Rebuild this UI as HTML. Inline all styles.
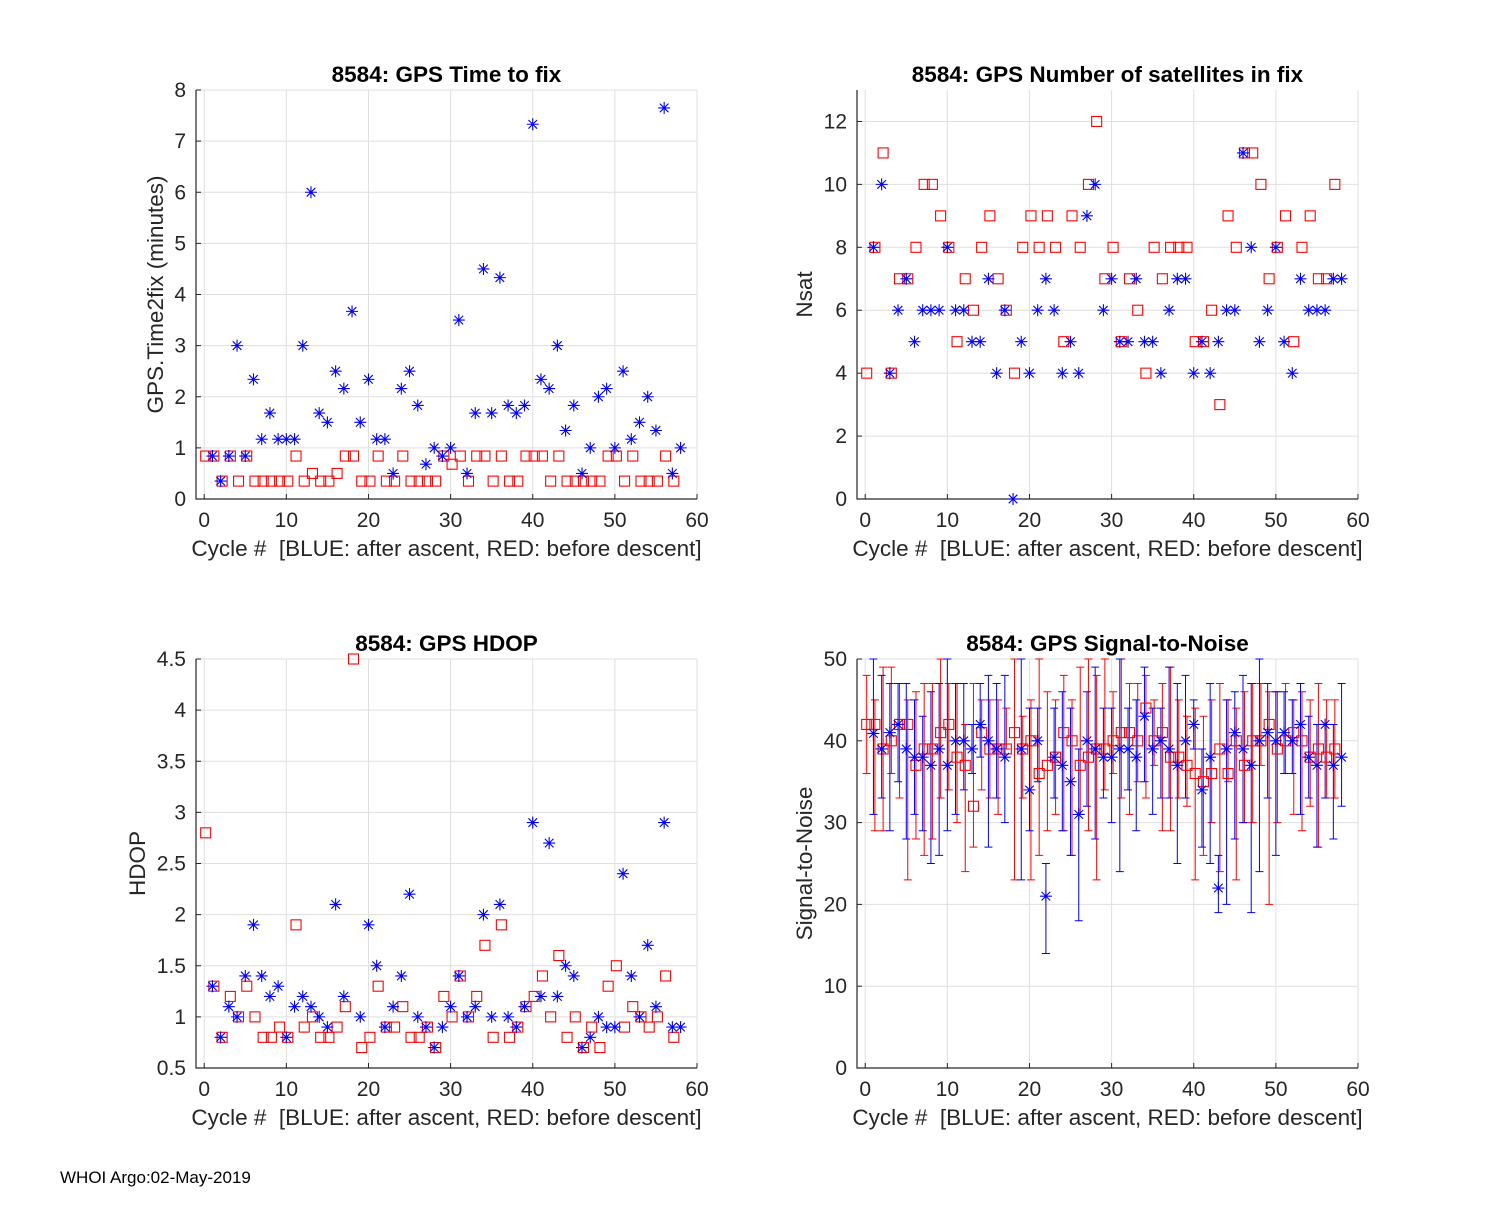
<!DOCTYPE html>
<html><head><meta charset="utf-8"><style>
body{margin:0;background:#fff;}
svg text{font-family:"Liberation Sans",Arial,sans-serif;fill:#262626;}
</style></head><body>
<svg id="fig" width="1500" height="1200" viewBox="0 0 1500 1200" xmlns="http://www.w3.org/2000/svg">
<rect width="1500" height="1200" fill="#fff"/>
<text x="60" y="1183" font-size="17" style="fill:#000">WHOI Argo:02-May-2019</text>
</svg>
<script>
// ---- data ----
const blueCycles = [1,2,3,4,5,6,7,8,9,10,11,12,13,14,15,16,17,18,19,20,21,22,23,24,25,26,27,28,29,30,31,32,33,34,35,36,37,38,39,40,41,42,43,44,45,46,47,48,49,50,51,52,53,54,55,56,57,58];
const redCycles = [0,1,2,3,4,5,6,7,8,9,10,11,12,13,14,15,16,17,18,19,20,21,22,23,24,25,26,27,28,29,30,31,32,33,34,35,36,37,38,39,40,41,42,43,44,45,46,47,48,49,50,51,52,53,54,55,56,57];
const redOffset = 0.18;

const ttfBlue = [0.84,0.35,0.84,3.0,0.84,2.34,1.17,1.68,1.17,1.17,1.17,3.0,6.0,1.68,1.5,2.5,2.16,3.67,1.5,2.34,1.17,1.17,0.5,2.16,2.5,1.83,0.68,1.0,0.84,1.0,3.5,0.5,1.68,4.5,1.68,4.33,1.83,1.68,1.83,7.33,2.34,2.16,3.0,1.34,1.83,0.5,1.0,2.0,2.16,1.0,2.5,1.17,1.5,2.0,1.34,7.65,0.5,1.0];
const ttfRed = [0.84,0.84,0.35,0.84,0.35,0.84,0.35,0.35,0.35,0.35,0.35,0.84,0.35,0.5,0.35,0.35,0.5,0.84,0.84,0.35,0.35,0.84,0.35,0.35,0.84,0.35,0.35,0.35,0.35,0.84,0.68,0.84,0.35,0.84,0.84,0.35,0.84,0.35,0.35,0.84,0.84,0.84,0.35,0.84,0.35,0.35,0.35,0.35,0.35,0.84,0.84,0.35,0.84,0.35,0.35,0.35,0.84,0.35];

const nsatBlue = [8,10,4,6,7,5,6,6,6,8,6,6,5,5,7,4,6,0,5,4,6,7,6,4,5,4,9,10,6,7,5,5,7,5,5,4,6,7,7,4,5,4,5,6,6,11,8,5,6,8,5,4,7,6,6,6,7,7];
const nsatRed = [4,8,11,4,7,7,8,10,10,9,8,5,7,6,8,9,7,6,4,8,9,8,9,8,5,9,8,10,12,7,8,5,7,6,4,8,7,8,8,8,5,5,6,3,9,8,11,11,10,7,8,9,5,8,9,7,7,10];

const hdopBlue = [1.3,0.8,1.1,1.0,1.4,1.9,1.4,1.2,1.3,0.8,1.1,1.2,1.1,1.0,0.9,2.1,1.2,null,1.0,1.9,1.5,0.9,1.1,1.4,2.2,1.0,0.9,0.7,0.9,1.1,1.4,1.0,1.1,2.0,1.0,2.1,1.0,0.9,1.1,2.9,1.2,2.7,1.2,1.5,1.4,0.7,0.8,1.0,0.9,0.9,2.4,1.4,1.0,1.7,1.1,2.9,0.9,0.9];
const hdopRed = [2.8,1.3,0.8,1.2,1.0,1.3,1.0,0.8,0.8,0.9,0.8,1.9,0.9,1.0,0.8,0.8,0.9,1.1,4.5,0.7,0.8,1.3,0.9,0.9,1.1,0.8,0.8,0.9,0.7,1.2,1.0,1.4,1.0,1.2,1.7,0.8,1.9,0.8,0.9,1.1,1.2,1.4,1.0,1.6,0.8,1.0,0.7,0.9,0.7,1.3,1.5,0.9,1.1,1.0,0.9,1.0,1.4,0.8];

const snrBlue = [40.9,39,41,42,39,38,38,37,39,37,40,40,39,42,40,39,38,null,39,34,40,21,38,37,35,31,40,39,38,38,39,39,38,43,39,40,39,37,40,42,34,38,22,39,41,39,37,40,41,40,41,40,42,38,37,42,37,38];
const snrBlueHi = [50,48,47,47,47,45,43,46,47,50,47,47,42,47,48,47,48,null,50,44,44,25,44,46,44,39,46,49,44,44,50,44,45,49,44,44,49,47,48,45,39,47,26,45,46,48,47,50,47,46,46,45,47,43,42,42,42,47];
const snrBlueLo = [31,33,29,35,28,31,29,25,26,29,31,34,36,38,27,33,30,null,23,29,35,14,33,29,26,18,32,28,33,30,24,34,29,35,31,33,33,25,33,39,27,25,19,20,28,30,19,24,33,26,36,36,31,33,27,33,28,32];
const snrRed = [42,42,39,40,42,42,37,39,39,41,42,38,37,32,41,39,39,39,41,39,40,36,37,38,41,40,37,38,39,39,40,41,41,40,44,40,41,38,38,37,36,35,36,39,36,40,37,40,40,42,39,40,41,40,38,39,38,39];
const snrRedHi = [48,45,49,49,47,45,46,47,47,50,47,47,42,47,45,45,45,44,50,43,45,50,46,45,48,45,49,50,48,50,46,50,47,47,48,45,47,49,45,43,44,43,45,47,45,44,46,47,47,46,46,47,45,46,45,47,45,45];
const snrRedLo = [36,29,29,36,33,23,28,26,28,33,34,30,24,27,34,33,31,39,23,33,23,26,29,31,29,26,31,29,23,34,36,33,31,35,33,37,29,29,33,32,23,26,30,24,35,23,30,30,37,20,30,36,31,29,32,27,33,33];

const xTicks = [0,10,20,30,40,50,60];
const ttfTicks = [0,1,2,3,4,5,6,7,8];
const nsatTicks = [0,2,4,6,8,10,12];
const hdopTicks = [0.5,1,1.5,2,2.5,3,3.5,4,4.5];
const snrTicks = [0,10,20,30,40,50];

// ---- drawing ----
const NS='http://www.w3.org/2000/svg';
const svg=document.getElementById('fig');
function mk(tag,attrs,parent){const e=document.createElementNS(NS,tag);for(const k in attrs)e.setAttribute(k,attrs[k]);(parent||svg).appendChild(e);return e;}

function makeAxes(o){
  const g=mk('g',{});
  
  
  const L=o.left,R=o.left+501,T=o.top,B=o.top+409;
  const sx=v=>L+(v-(-1))/(61)*(R-L);
  const sy=v=>B-(v-o.ymin)/(o.ymax-o.ymin)*(B-T);
  xTicks.forEach(t=>{const l=mk('line',{x1:sx(t),x2:sx(t),y1:T,y2:B,stroke:'#dfdfdf','stroke-width':1},g);
    
    });
  o.yticks.forEach(t=>{const l=mk('line',{x1:L,x2:R,y1:sy(t),y2:sy(t),stroke:'#dfdfdf','stroke-width':1},g);
    
    });
  const ax=mk('path',{d:`M${L},${T}V${B}H${R}`,stroke:'#262626','stroke-width':1.2,fill:'none'},g);
  
  
  xTicks.forEach(t=>{mk('line',{x1:sx(t),x2:sx(t),y1:B,y2:B-5,stroke:'#262626'},g);
    const tx=mk('text',{x:sx(t),y:B+28,'font-size':21,'text-anchor':'middle'},g);tx.textContent=t;
    
    });
  o.yticks.forEach(t=>{mk('line',{x1:L,x2:L+5,y1:sy(t),y2:sy(t),stroke:'#262626'},g);
    const tx=mk('text',{x:L-10,y:sy(t)+7,'font-size':21,'text-anchor':'end'},g);tx.textContent=t;
    
    });
  const ti=mk('text',{x:(L+R)/2,y:T-8,'font-size':22.5,'font-weight':'bold','text-anchor':'middle'},g);
  ti.textContent=o.title;ti.style.fill='#000';
  
  
  const xl=mk('text',{x:(L+R)/2,y:B+57,'font-size':22.5,'text-anchor':'middle'},g);
  xl.style.whiteSpace='pre';
  xl.textContent='Cycle #  [BLUE: after ascent, RED: before descent]';
  
  
  const yl=mk('text',{x:0,y:0,'font-size':22.5,'text-anchor':'middle',transform:`translate(${o.ylx},${(T+B)/2}) rotate(-90)`},g);
  yl.textContent=o.ylabel;
  
  
  return {g,sx,sy};
}
function star(g,x,y,c){const r=6,d=4.3;
  const p=mk('path',{d:`M${x-r},${y}H${x+r}M${x},${y-r}V${y+r}M${x-d},${y-d}L${x+d},${y+d}M${x-d},${y+d}L${x+d},${y-d}`,stroke:c,'stroke-width':1.1,fill:'none'},g);
  
  }
function square(g,x,y,c){const s=10;
  const p=mk('rect',{x:x-s/2,y:y-s/2,width:s,height:s,stroke:c,'stroke-width':1.1,fill:'none'},g);
  
  }
function errbar(g,x,y1,y2,c){
  const p=mk('path',{d:`M${x},${y1}V${y2}M${x-4},${y1}H${x+4}M${x-4},${y2}H${x+4}`,stroke:c,'stroke-width':1,fill:'none'},g);
  
  }

function plotSeries(a,blue,red){
  red.forEach((v,i)=>{if(v!=null)square(a.g,a.sx(redCycles[i]+redOffset),a.sy(v),'#ff0000');});
  blue.forEach((v,i)=>{if(v!=null)star(a.g,a.sx(blueCycles[i]),a.sy(v),'#0000ff');});
}

const a1=makeAxes({name:'time-to-fix-chart',left:196,top:90,ymin:0,ymax:8,yticks:ttfTicks,title:'8584: GPS Time to fix',ylabel:'GPS.Time2fix (minutes)',ylx:163});
plotSeries(a1,ttfBlue,ttfRed);
const a2=makeAxes({name:'satellites-chart',left:857,top:90,ymin:0,ymax:13,yticks:nsatTicks,title:'8584: GPS Number of satellites in fix',ylabel:'Nsat',ylx:812});
plotSeries(a2,nsatBlue,nsatRed);
const a3=makeAxes({name:'hdop-chart',left:196,top:659,ymin:0.5,ymax:4.5,yticks:hdopTicks,title:'8584: GPS HDOP',ylabel:'HDOP',ylx:145});
plotSeries(a3,hdopBlue,hdopRed);
const a4=makeAxes({name:'signal-to-noise-chart',left:857,top:659,ymin:0,ymax:50,yticks:snrTicks,title:'8584: GPS Signal-to-Noise',ylabel:'Signal-to-Noise',ylx:812});
snrRed.forEach((v,i)=>{errbar(a4.g,a4.sx(redCycles[i]+redOffset),a4.sy(snrRedHi[i]),a4.sy(snrRedLo[i]),'#ff0000');});
snrBlue.forEach((v,i)=>{if(v!=null)errbar(a4.g,a4.sx(blueCycles[i]),a4.sy(snrBlueHi[i]),a4.sy(snrBlueLo[i]),'#0000ff');});
plotSeries(a4,snrBlue,snrRed);
</script>
</body></html>
